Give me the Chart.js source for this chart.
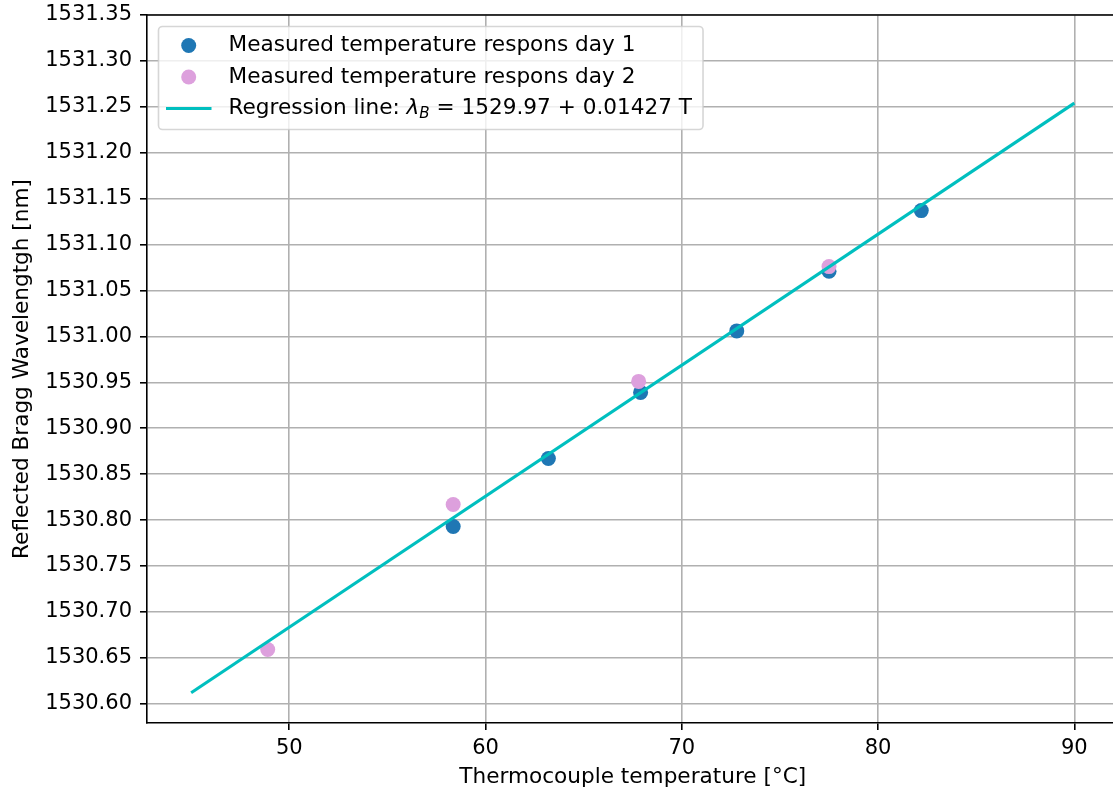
<!DOCTYPE html>
<html>
<head>
<meta charset="utf-8">
<script src="https://cdn.jsdelivr.net/npm/chart.js@4.4.0/dist/chart.umd.min.js"></script>
<style>
body { margin: 0; overflow: hidden; background: #fff; }
#wrap { width: 1126px; height: 794px; }
</style>
</head>
<body>
<div id="wrap"><canvas id="chart" width="1126" height="794"></canvas></div>
<script>
// values
var day1Temp = [58.35, 63.2, 67.9, 72.8, 77.5, 82.2];
var day1Wave = [1530.793, 1530.867, 1530.939, 1531.006, 1531.071, 1531.137];
var day2Temp = [48.9, 58.35, 67.8, 77.5];
var day2Wave = [1530.659, 1530.817, 1530.951, 1531.076];
var lineTemp = [45, 90];
var lineWave = [1530.612, 1531.254];

var xTicks = [50, 60, 70, 80, 90];
var yTicks = [1530.60, 1530.65, 1530.70, 1530.75, 1530.80, 1530.85, 1530.90, 1530.95,
              1531.00, 1531.05, 1531.10, 1531.15, 1531.20, 1531.25, 1531.30, 1531.35];

var legendLabels = ['Measured temperature respons day 1',
                    'Measured temperature respons day 2',
                    'Regression line: λ_B = 1529.97 + 0.01427 T'];

var FONT = "'DejaVu Sans', sans-serif";
var FS = 21.6;      // legend + axis titles
var TICK_FS = 21;

function toPoints(xs, ys){
    return xs.map(function(x, i){ return {x: x, y: ys[i]}; });
}

var topSpine = {
    id: 'topSpine',
    afterDraw: function(chart){
        var ctx = chart.ctx, a = chart.chartArea;
        ctx.save();
        ctx.strokeStyle = '#000';
        ctx.lineWidth = 1.6;
        ctx.beginPath();
        ctx.moveTo(a.left, a.top);
        ctx.lineTo(a.right, a.top);
        ctx.stroke();
        ctx.restore();
    }
};

// matplotlib style legend in upper left corner
var boxLegend = {
    id: 'boxLegend',
    afterDraw: function(chart){
        var ctx = chart.ctx;
        var ds = chart.data.datasets;
        var left = 158.5, top = 26.5, rowH = 31.5, firstY = 45.5, textX = 228.5;
        ctx.save();
        var maxW = 0;
        legendLabels.forEach(function(t){
            var w = measureLabel(ctx, t);
            if (w > maxW) maxW = w;
        });
        var right = textX + maxW + 11;
        var bottom = 129.5;
        ctx.beginPath();
        ctx.roundRect(left, top, right - left, bottom - top, 4);
        ctx.fillStyle = 'rgba(255,255,255,0.8)';
        ctx.fill();
        ctx.strokeStyle = 'rgba(204,204,204,0.8)';
        ctx.lineWidth = 1.6;
        ctx.stroke();

        legendLabels.forEach(function(t, i){
            var y = firstY + rowH * i;
            var d = ds[i];
            if (d.showLine){
                ctx.strokeStyle = d.borderColor;
                ctx.lineWidth = d.borderWidth;
                ctx.beginPath();
                ctx.moveTo(166, y);
                ctx.lineTo(211.5, y);
                ctx.stroke();
            } else {
                ctx.fillStyle = d.backgroundColor;
                ctx.beginPath();
                ctx.arc(188.7, y, 7.5, 0, Math.PI * 2);
                ctx.fill();
            }
            drawLabel(ctx, t, textX, y);
        });
        ctx.restore();
    }
};

function splitLabel(t){
    var k = t.indexOf('λ_B');
    if (k < 0) return [t];
    return [t.slice(0, k), t.slice(k + 3)];
}

function measureLabel(ctx, t){
    var p = splitLabel(t);
    ctx.font = FS + 'px ' + FONT;
    if (p.length == 1) return ctx.measureText(t).width;
    var w = ctx.measureText(p[0]).width + ctx.measureText(p[1]).width;
    ctx.font = 'italic ' + FS + 'px ' + FONT;
    w += ctx.measureText('λ').width;
    ctx.font = 'italic ' + (FS * 0.7) + 'px ' + FONT;
    w += ctx.measureText('B').width;
    return w;
}

function drawLabel(ctx, t, x, y){
    var p = splitLabel(t);
    ctx.fillStyle = '#000';
    ctx.textBaseline = 'middle';
    ctx.textAlign = 'left';
    ctx.font = FS + 'px ' + FONT;
    ctx.fillText(p[0], x, y);
    if (p.length == 1) return;
    x += ctx.measureText(p[0]).width;
    ctx.font = 'italic ' + FS + 'px ' + FONT;
    ctx.fillText('λ', x, y);
    x += ctx.measureText('λ').width;
    ctx.font = 'italic ' + (FS * 0.7) + 'px ' + FONT;
    ctx.fillText('B', x, y + 6);
    x += ctx.measureText('B').width;
    ctx.font = FS + 'px ' + FONT;
    ctx.fillText(p[1], x, y);
}

function noOverflow(s){
    s.paddingTop = 0;
    s.paddingBottom = 0;
    s.paddingLeft = 0;
    s.paddingRight = 0;
}

Chart.defaults.font.family = FONT;
Chart.defaults.font.size = TICK_FS;
Chart.defaults.color = '#000';

var chart = new Chart(document.getElementById('chart').getContext('2d'), {
    type: 'scatter',
    data: {
        datasets: [{
            label: legendLabels[0],
            data: toPoints(day1Temp, day1Wave),
            backgroundColor: '#1f77b4',
            pointRadius: 7.5,
            pointBorderWidth: 0,
            order: 3
        }, {
            label: legendLabels[1],
            data: toPoints(day2Temp, day2Wave),
            backgroundColor: '#dda0dd',
            pointRadius: 7.5,
            pointBorderWidth: 0,
            order: 2
        }, {
            label: legendLabels[2],
            data: toPoints(lineTemp, lineWave),
            showLine: true,
            borderColor: '#00bfbf',
            borderWidth: 3.1,
            pointRadius: 0,
            fill: false,
            order: 1
        }]
    },
    options: {
        responsive: false,
        animation: false,
        layout: { padding: { top: 15, right: 0, left: 0, bottom: 0 } },
        plugins: {
            legend: { display: false },
            tooltip: { enabled: false }
        },
        scales: {
            x: {
                type: 'linear',
                min: 42.75,
                max: 92.25,
                afterBuildTicks: function(s){ s.ticks = xTicks.map(function(v){ return {value: v}; }); },
                afterFit: function(s){ s.height = 71; noOverflow(s); },
                grid: { color: '#b0b0b0', lineWidth: 1.6, tickColor: '#000', tickLength: 7 },
                border: { color: '#000', width: 1.6 },
                ticks: { padding: 6, maxRotation: 0, callback: function(v){ return v; } },
                title: { display: true, text: 'Thermocouple temperature [°C]', font: { size: FS }, padding: { top: 0, bottom: 4 } }
            },
            y: {
                type: 'linear',
                min: 1530.579,
                max: 1531.35,
                afterBuildTicks: function(s){ s.ticks = yTicks.map(function(v){ return {value: v}; }); },
                afterFit: function(s){ s.width = 147; noOverflow(s); },
                grid: { color: '#b0b0b0', lineWidth: 1.6, tickColor: '#000', tickLength: 7 },
                border: { color: '#000', width: 1.6 },
                ticks: { padding: 8, callback: function(v){ return v.toFixed(2); } },
                title: { display: true, text: 'Reflected Bragg Wavelengtgh [nm]', font: { size: FS }, padding: { top: 9, bottom: 0 } }
            }
        }
    },
    plugins: [topSpine, boxLegend]
});
</script>
</body>
</html>
